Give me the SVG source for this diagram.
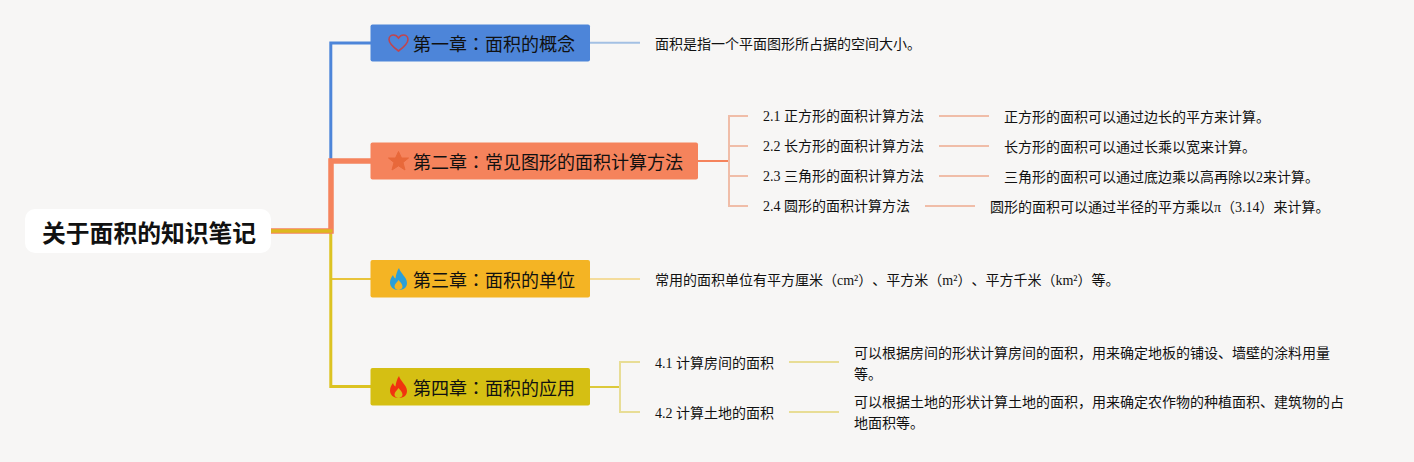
<svg xmlns="http://www.w3.org/2000/svg" width="1414" height="462" viewBox="0 0 1414 462">
<style>
text{font-family:"Liberation Serif","Noto Sans CJK SC",sans-serif;fill:#111;text-spacing-trim:space-all;font-feature-settings:"chws" 0,"halt" 0}
.s{font-size:14px}
.h{font-size:18px;font-family:"Liberation Serif","Noto Sans CJK JP",sans-serif}
.r{font-size:23.800px;font-weight:700}
.c{fill:none;stroke-linejoin:miter}
</style>
<rect width="1414" height="462" fill="#f7f6f5"/>
<g id="connectors">
<path class="c" d="M330.800 161V43H371" stroke="#4d85d9" stroke-width="3"/>
<path class="c" d="M330.800 231V279H371" stroke="#e8c43a" stroke-width="2"/>
<path class="c" d="M330.800 231V386.500H371" stroke="#dcc322" stroke-width="3"/>
<path class="c" d="M271 231H331V161H371" stroke="#f5835c" stroke-width="5.500"/>
<path class="c" d="M271 231H332.300" stroke="#dcb91e" stroke-width="3.300"/>
<path class="c" d="M590 42.800H640" stroke="#a3c0e3" stroke-width="2"/>
<path class="c" d="M698 161H728" stroke="#f5835c" stroke-width="2"/>
<path class="c" d="M748 116H729V206H748M729 146H748M729 176H748M939 116H989M939 146H989M939 176H989M925 206H975" stroke="#f0bda8" stroke-width="2"/>
<path class="c" d="M590 279H640" stroke="#f4dc9c" stroke-width="2"/>
<path class="c" d="M590 387H620" stroke="#dcc93a" stroke-width="2"/>
<path class="c" d="M640 362H620V412H640M789 362H839M789 412H839" stroke="#e8dd95" stroke-width="2"/>
</g>
<g id="root"><rect x="25" y="209" width="246" height="44" rx="10" fill="#fff"/><text class="r" x="42" y="242">关于面积的知识笔记</text></g>
<g id="ch1"><rect x="370.500" y="24.500" width="219.500" height="37" rx="2" fill="#4d85d9"/><path d="M398.500 51C393 47 389 43.500 389 39.500C389 36.500 391.500 35 393.500 35C396 35 397.500 36.500 398.500 38C399.500 36.500 401 35 403.500 35C405.500 35 408 36.500 408 39.500C408 43.500 404 47 398.500 51Z" fill="none" stroke="#c0454e" stroke-width="1.600"/><text class="h" x="413" y="51">第一章：面积的概念</text></g>
<g id="ch1-note"><text class="s" x="655" y="49">面积是指一个平面图形所占据的空间大小。</text></g>
<g id="ch2"><rect x="370.500" y="142.500" width="327.500" height="37" rx="2" fill="#f5835c"/><path d="M398.500 151.500L401.500 158H408.500L403 162.500L405 170L398.500 165.800L392 170L394 162.500L388.500 158H395.500Z" fill="#e8683a" stroke="#e8683a" stroke-linejoin="round"/><text class="h" x="413" y="169">第二章：常见图形的面积计算方法</text></g>
<g id="n21"><text class="s" x="763" y="121">2.1 正方形的面积计算方法</text><text class="s" x="1004" y="122">正方形的面积可以通过边长的平方来计算。</text></g>
<g id="n22"><text class="s" x="763" y="151">2.2 长方形的面积计算方法</text><text class="s" x="1004" y="152">长方形的面积可以通过长乘以宽来计算。</text></g>
<g id="n23"><text class="s" x="763" y="181">2.3 三角形的面积计算方法</text><text class="s" x="1004" y="182">三角形的面积可以通过底边乘以高再除以2来计算。</text></g>
<g id="n24"><text class="s" x="763" y="211">2.4 圆形的面积计算方法</text><text class="s" x="990" y="212">圆形的面积可以通过半径的平方乘以π（3.14）来计算。</text></g>
<g id="ch3"><rect x="370.500" y="260" width="219.500" height="37.500" rx="2" fill="#f4b424"/><path d="M399 268C400 273 407 277 407 283C407 287.500 403.500 290 398.500 290C393.500 290 390 287 390 282.500C390 279 392 276.500 393 275C393.500 277 394.500 278 395.500 278.500C396 274.500 397 271 399 268Z" fill="#2a9fd8"/><path d="M398.500 280C400 282 402.500 284 402.500 286.500C402.500 288.500 400.500 290 398.500 290C396.500 290 394.500 288.500 394.500 286.500C394.500 284 397 282.500 398.500 280Z" fill="#f4b424"/><text class="h" x="413" y="287">第三章：面积的单位</text></g>
<g id="ch3-note"><text class="s" x="655" y="285">常用的面积单位有平方厘米（cm²）、平方米（m²）、平方千米（km²）等。</text></g>
<g id="ch4"><rect x="370.500" y="368" width="219.500" height="37.500" rx="2" fill="#d5bf13"/><path d="M399 376C400 381 407 385 407 391C407 395.500 403.500 398 398.500 398C393.500 398 390 395 390 390.500C390 387 392 384.500 393 383C393.500 385 394.500 386 395.500 386.500C396 382.500 397 379 399 376Z" fill="#f0330f"/><path d="M398.500 388C400 390 402.500 392 402.500 394.500C402.500 396.500 400.500 398 398.500 398C396.500 398 394.500 396.500 394.500 394.500C394.500 392 397 390.500 398.500 388Z" fill="#d5bf13"/><text class="h" x="413" y="395">第四章：面积的应用</text></g>
<g id="n41"><text class="s" x="655" y="368">4.1 计算房间的面积</text><text class="s" x="854" y="358">可以根据房间的形状计算房间的面积，用来确定地板的铺设、墙壁的涂料用量</text><text class="s" x="854" y="379">等。</text></g>
<g id="n42"><text class="s" x="655" y="418">4.2 计算土地的面积</text><text class="s" x="854" y="407">可以根据土地的形状计算土地的面积，用来确定农作物的种植面积、建筑物的占</text><text class="s" x="854" y="428">地面积等。</text></g>
</svg>
